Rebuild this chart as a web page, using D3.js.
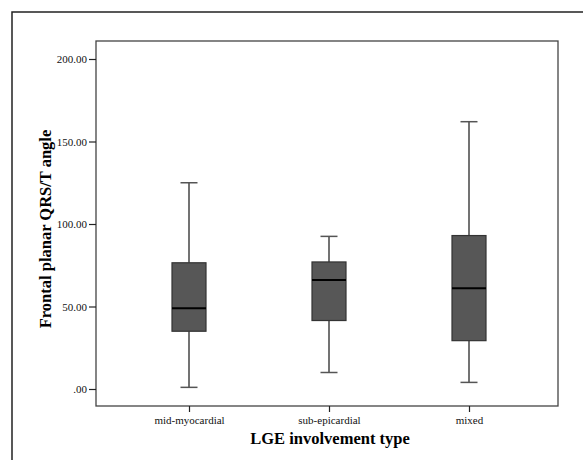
<!DOCTYPE html>
<html><head><meta charset="utf-8">
<script src="https://cdn.jsdelivr.net/npm/d3@7"></script>
<style>body{margin:0;background:#fff}svg{display:block}</style>
</head><body>
<script>
const categories = ["mid-myocardial", "sub-epicardial", "mixed"];
const whiskerLow = [1, 10, 4];
const q1 = [35, 41.5, 29.3];
const median = [49, 66, 61];
const q3 = [76.5, 77, 93];
const whiskerHigh = [125, 92.5, 162];
const yTicks = [0, 50, 100, 150, 200];
const yTickLabels = [".00", "50.00", "100.00", "150.00", "200.00"];

const W = 583, H = 460;
const svg = d3.select("body").append("svg").attr("width", W).attr("height", H);

svg.append("rect").attr("x", 12).attr("y", 12).attr("width", 600).attr("height", 500)
  .attr("fill", "none").attr("stroke", "#222").attr("stroke-width", 1.5);

const plot = {left: 96, right: 558, top: 41, bottom: 406};
const y = d3.scaleLinear().domain([0, 200]).range([389, 59]);
const x = d3.scalePoint().domain(categories).range([189, 469]);

svg.append("rect").attr("x", plot.left).attr("y", plot.top)
  .attr("width", plot.right - plot.left).attr("height", plot.bottom - plot.top)
  .attr("fill", "none").attr("stroke", "#444").attr("stroke-width", 1.3);

const serif = "'Liberation Serif', 'DejaVu Serif', serif";

const yAxis = d3.axisLeft(y).tickValues(yTicks).tickFormat((d, i) => yTickLabels[i]).tickSize(7).tickPadding(2);
const gy = svg.append("g").attr("transform", `translate(${plot.left},0)`).call(yAxis);
gy.select(".domain").remove();
gy.selectAll("line").attr("stroke", "#222").attr("stroke-width", 1.2);
gy.selectAll("text").style("font-family", serif).style("font-size", "11px").attr("fill", "#111");

const xAxis = d3.axisBottom(x).tickSize(6).tickPadding(4);
const gx = svg.append("g").attr("transform", `translate(0,${plot.bottom})`).call(xAxis);
gx.select(".domain").remove();
gx.selectAll("line").attr("stroke", "#222").attr("stroke-width", 1.2);
gx.selectAll("text").style("font-family", serif).style("font-size", "11px").attr("fill", "#111");

svg.append("text").attr("x", 330).attr("y", 444).attr("text-anchor", "middle")
  .style("font-family", serif).attr("font-weight", "bold").style("font-size", "16.5px")
  .text("LGE involvement type");
svg.append("text").attr("transform", "translate(51,229) rotate(-90)").attr("text-anchor", "middle")
  .style("font-family", serif).attr("font-weight", "bold").style("font-size", "16.5px")
  .text("Frontal planar QRS/T angle");

const bw = 34, cw = 17;
categories.forEach((c, i) => {
  const cx = x(c);
  const g = svg.append("g");
  g.append("line").attr("x1", cx).attr("x2", cx).attr("y1", y(whiskerHigh[i])).attr("y2", y(q3[i]))
    .attr("stroke", "#444").attr("stroke-width", 1.5);
  g.append("line").attr("x1", cx).attr("x2", cx).attr("y1", y(q1[i])).attr("y2", y(whiskerLow[i]))
    .attr("stroke", "#444").attr("stroke-width", 1.5);
  g.append("line").attr("x1", cx - cw/2).attr("x2", cx + cw/2).attr("y1", y(whiskerHigh[i])).attr("y2", y(whiskerHigh[i]))
    .attr("stroke", "#555").attr("stroke-width", 1.5);
  g.append("line").attr("x1", cx - cw/2).attr("x2", cx + cw/2).attr("y1", y(whiskerLow[i])).attr("y2", y(whiskerLow[i]))
    .attr("stroke", "#555").attr("stroke-width", 1.5);
  g.append("rect").attr("x", cx - bw/2).attr("y", y(q3[i])).attr("width", bw).attr("height", y(q1[i]) - y(q3[i]))
    .attr("fill", "#575757").attr("stroke", "#333").attr("stroke-width", 1.2);
  g.append("line").attr("x1", cx - bw/2).attr("x2", cx + bw/2).attr("y1", y(median[i])).attr("y2", y(median[i]))
    .attr("stroke", "#000").attr("stroke-width", 2);
});
</script>
</body></html>
